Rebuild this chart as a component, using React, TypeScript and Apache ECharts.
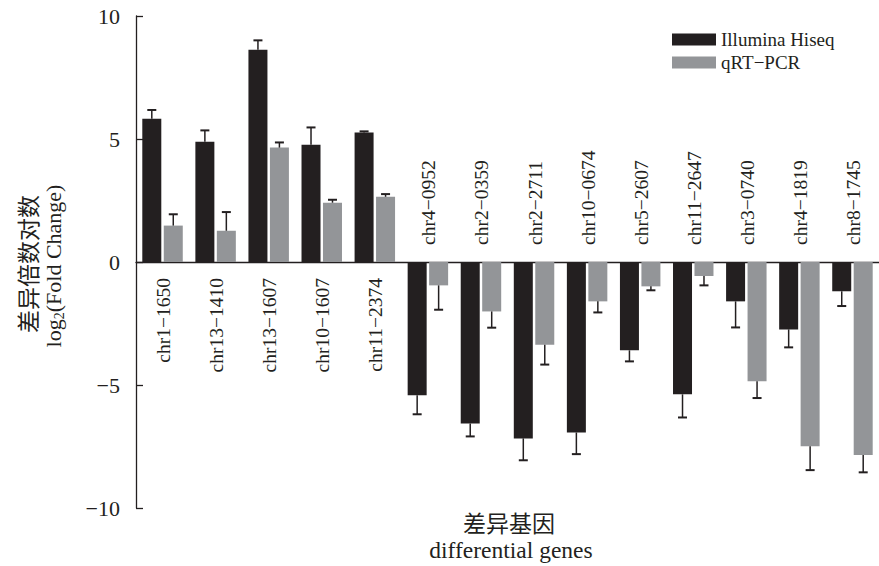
import React, { useEffect, useRef } from "react";
import * as echarts from "echarts";

// Genes compared between sequencing and qRT-PCR
const categories = [
  "chr1−1650", "chr13−1410", "chr13−1607", "chr10−1607", "chr11−2374",
  "chr4−0952", "chr2−0359", "chr2−2711", "chr10−0674", "chr5−2607",
  "chr11−2647", "chr3−0740", "chr4−1819", "chr8−1745",
];

// log2 fold change and standard error, Illumina Hiseq
const illumina = [5.82, 4.89, 8.63, 4.77, 5.26, -5.42, -6.56, -7.17, -6.93, -3.59, -5.38, -1.6, -2.74, -1.19];
const illuminaErr = [0.36, 0.46, 0.38, 0.7, 0.05, 0.77, 0.53, 0.89, 0.88, 0.45, 0.94, 1.06, 0.73, 0.6];

// log2 fold change and standard error, qRT-PCR
const qpcr = [1.48, 1.27, 4.65, 2.41, 2.65, -0.95, -2.01, -3.36, -1.6, -0.99, -0.57, -4.85, -7.49, -7.85];
const qpcrErr = [0.46, 0.76, 0.21, 0.12, 0.11, 0.99, 0.66, 0.81, 0.45, 0.16, 0.38, 0.68, 0.97, 0.7];

const yTicks = [-10, -5, 0, 5, 10];
const seriesNames = ["Illumina Hiseq", "qRT−PCR"];

const SERIF = "Liberation Serif, DejaVu Serif, serif";
const CJK = "Noto Sans CJK SC, sans-serif";
const INK = "#231f20";
const DARK = "#231f20";
const GREY = "#939598";
const BAR_W = 19;
const BAR_GAP = 0.13;
const HALF_STEP = (BAR_W + BAR_W * BAR_GAP) / 2;

function errorSeries(values: number[], errs: number[], shift: number) {
  return {
    type: "custom",
    silent: true,
    z: 5,
    clip: false,
    data: values.map((v, i) => [i, v, v + Math.sign(v) * errs[i]]),
    renderItem: (_params: any, api: any) => {
      const i = api.value(0);
      const base = api.coord([i, api.value(1)]);
      const tip = api.coord([i, api.value(2)]);
      const x = base[0] + shift;
      return {
        type: "group",
        children: [
          { type: "line", shape: { x1: x, y1: base[1], x2: x, y2: tip[1] }, style: { stroke: INK, lineWidth: 1.5 } },
          { type: "line", shape: { x1: x - 4.5, y1: tip[1], x2: x + 4.5, y2: tip[1] }, style: { stroke: INK, lineWidth: 2 } },
        ],
      };
    },
  };
}

export default function App() {
  const ref = useRef<HTMLDivElement>(null);

  useEffect(() => {
    if (!ref.current) return;
    const chart = echarts.init(ref.current, null, { renderer: "svg" });

    const option: any = {
      animation: false,
      backgroundColor: "#ffffff",
      textStyle: { fontFamily: SERIF },
      grid: { left: 136, top: 16, width: 750, height: 492, containLabel: false },
      legend: {
        data: seriesNames,
        orient: "vertical",
        left: 667,
        top: 25,
        itemWidth: 44,
        itemHeight: 12,
        itemGap: 4,
        icon: "rect",
        textStyle: { fontFamily: SERIF, fontSize: 19, color: INK },
      },
      xAxis: {
        type: "category",
        data: categories,
        axisLine: { onZero: true, lineStyle: { color: INK, width: 1.3 } },
        axisTick: { show: false },
        axisLabel: { show: false },
        splitLine: { show: false },
      },
      yAxis: {
        type: "value",
        min: yTicks[0],
        max: yTicks[yTicks.length - 1],
        interval: 5,
        axisLine: { show: true, onZero: false, lineStyle: { color: INK, width: 1.3 } },
        axisTick: { show: true, inside: true, length: 7, lineStyle: { color: INK, width: 1.3 } },
        splitLine: { show: false },
        axisLabel: {
          margin: 16,
          fontFamily: SERIF,
          fontSize: 22,
          color: INK,
          formatter: (v: number) => (v < 0 ? "−" + Math.abs(v) : String(v)),
        },
      },
      series: [
        {
          name: seriesNames[0],
          type: "bar",
          data: illumina,
          barWidth: BAR_W,
          barGap: BAR_GAP * 100 + "%",
          itemStyle: { color: DARK },
        },
        {
          name: seriesNames[1],
          type: "bar",
          data: qpcr,
          barWidth: BAR_W,
          itemStyle: { color: GREY },
        },
        errorSeries(illumina, illuminaErr, -HALF_STEP),
        errorSeries(qpcr, qpcrErr, HALF_STEP),
        {
          // gene names sit on the opposite side of the zero line from the bars
          type: "custom",
          silent: true,
          z: 6,
          clip: false,
          data: categories.map((_, i) => [i, 0]),
          renderItem: (_params: any, api: any) => {
            const i = api.value(0);
            const p = api.coord([i, 0]);
            const below = illumina[i] >= 0;
            return {
              type: "text",
              x: p[0] + 1,
              y: p[1] + (below ? 16 : -17),
              rotation: Math.PI / 2,
              style: {
                text: categories[i],
                align: below ? "right" : "left",
                verticalAlign: "middle",
                fontFamily: SERIF,
                fontSize: 19.5,
                fill: INK,
              },
            };
          },
        },
      ],
      graphic: [
        {
          type: "text",
          x: 27,
          y: 264,
          rotation: Math.PI / 2,
          style: {
            text: "差异倍数对数",
            align: "center",
            verticalAlign: "middle",
            fontFamily: CJK,
            fontSize: 23,
            fill: INK,
          },
        },
        {
          type: "text",
          x: 53,
          y: 266,
          rotation: Math.PI / 2,
          style: {
            text: "{a|log}{s|2}{a|(Fold Change)}",
            align: "center",
            verticalAlign: "middle",
            rich: {
              a: { fontFamily: SERIF, fontSize: 22, lineHeight: 26, fill: INK, verticalAlign: "middle" },
              s: { fontFamily: SERIF, fontSize: 14, lineHeight: 26, fill: INK, verticalAlign: "bottom" },
            },
          },
        },
        {
          type: "text",
          x: 509,
          y: 522,
          style: {
            text: "差异基因",
            align: "center",
            verticalAlign: "middle",
            fontFamily: CJK,
            fontSize: 23,
            fill: INK,
          },
        },
        {
          type: "text",
          x: 511,
          y: 550,
          style: {
            text: "differential genes",
            align: "center",
            verticalAlign: "middle",
            fontFamily: SERIF,
            fontSize: 23.5,
            fill: INK,
          },
        },
      ],
    };

    chart.setOption(option);
    return () => chart.dispose();
  }, []);

  return <div ref={ref} style={{ width: 879, height: 566, position: "absolute", left: 0, top: 0 }} />;
}
